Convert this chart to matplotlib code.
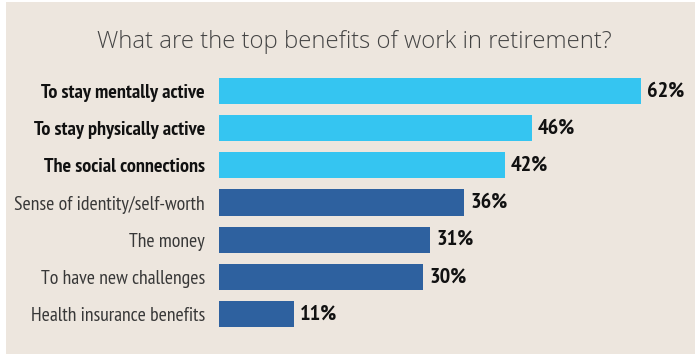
import matplotlib.pyplot as plt
from matplotlib.patches import Rectangle

benefits = [
    "To stay mentally active",
    "To stay physically active",
    "The social connections",
    "Sense of identity/self-worth",
    "The money",
    "To have new challenges",
    "Health insurance benefits",
]
shares = [62, 46, 42, 36, 31, 30, 11]
highlighted = [True, True, True, False, False, False, False]

light_blue = "#35c5f1"
dark_blue = "#2e619f"
panel = "#ede6de"
label_font = "PT Sans Narrow"

W, H = 695, 354
fig = plt.figure(figsize=(W / 100, H / 100), dpi=100, facecolor="white")
fig.patches.append(Rectangle((6 / W, 0), 1, 352 / H, transform=fig.transFigure,
                             facecolor=panel, edgecolor="none", zorder=-1))

fig.text(354 / W, 1 - 48 / H, "What are the top benefits of work in retirement?",
         ha="center", va="baseline", fontsize=17.2, color="#444444",
         family="Open Sans", weight=300)

# axes placed in pixel coordinates: bars start at x=219
left, right, top, bottom = 219, 695, 65, 340
ax = fig.add_axes([left / W, 1 - bottom / H, (right - left) / W, (bottom - top) / H])
ax.set_facecolor("none")
px_per_pct = 6.8
ax.set_xlim(0, (right - left) / px_per_pct)
ax.set_ylim(6.7, -0.7)

ypos = list(range(len(benefits)))
colors = [light_blue if h else dark_blue for h in highlighted]
ax.barh(ypos, shares, height=0.70, color=colors, zorder=2)

ax.set_yticks(ypos)
ax.set_yticklabels(benefits)
for lab, h in zip(ax.get_yticklabels(), highlighted):
    lab.set_family(label_font)
    lab.set_fontsize(14.5 if h else 14.2)
    lab.set_fontweight("bold" if h else "normal")
    lab.set_color("#111111" if h else "#383838")
ax.tick_params(axis="y", length=0, pad=10)
ax.set_xticks([])
for s in ax.spines.values():
    s.set_visible(False)

for y, v in zip(ypos, shares):
    ax.annotate(f"{v}%", (v, y), xytext=(4.5, 0), textcoords="offset points",
                ha="left", va="center", fontsize=16, fontweight="bold",
                color="#111111", family=label_font)

fig.savefig("out.png", dpi=100, facecolor=fig.get_facecolor())
